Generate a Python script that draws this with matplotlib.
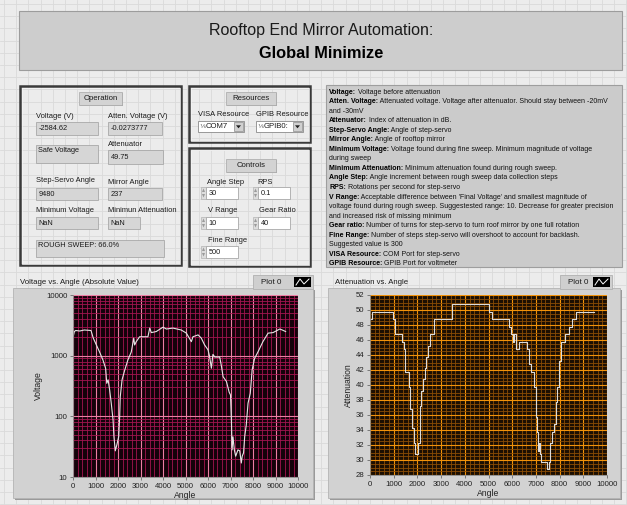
import numpy as np
import matplotlib
matplotlib.use("Agg")
import matplotlib.pyplot as plt
from matplotlib.patches import Rectangle, Polygon
from matplotlib.ticker import MultipleLocator, FixedLocator, NullFormatter

plt.rcParams['font.family'] = ['Liberation Sans', 'DejaVu Sans']

# voltage vs angle (absolute value)
volt_angle = [0, 60, 120, 300, 500, 800, 900, 1040, 1180, 1330,
              1450, 1500, 1560, 1630, 1700, 1780, 1820, 1880, 1950, 2030,
              2075, 2100, 2180, 2300, 2440, 2590, 2700, 2740, 2810, 2960,
              3190, 3330, 3410, 3480, 3700, 4000, 4150, 4440, 4810, 5040,
              5260, 5330, 5560, 5700, 5850, 6000, 6070, 6150, 6220, 6300,
              6520, 6600, 6670, 6820, 6940, 7000, 7040, 7070, 7110, 7170,
              7230, 7330, 7410, 7480, 7520, 7580, 7630, 7700, 7780, 7880,
              7960, 8070, 8220, 8440, 8670, 8890, 9190, 9300, 9450]
volt = [2000, 2500, 2600, 2550, 2650, 2600, 1950, 1500, 1150, 850,
        620, 350, 400, 270, 165, 87, 46, 27, 34, 46,
        100, 210, 400, 580, 850, 1150, 1950, 1500, 1700, 2050,
        2050, 2050, 2850, 2400, 2500, 2950, 2750, 2850, 2650, 2350,
        1700, 2050, 2200, 1950, 1500, 1250, 970, 620, 1050, 950,
        950, 660, 450, 375, 250, 225, 87, 28, 46, 28,
        22, 28, 27, 17, 22, 25, 46, 72, 165, 240,
        580, 900, 1150, 1700, 2350, 2400, 2750, 2650, 2500]

# attenuation vs angle (step values)
att_angle = [0, 100, 990, 1060, 1340, 1420, 1490, 1630, 1700, 1770,
             1840, 1890, 2040, 2090, 2170, 2230, 2310, 2380, 2450, 2520,
             2700, 3450, 5030, 5140, 5850, 5950, 6020, 6060, 6140, 6290,
             6620, 6700, 6800, 6900, 7000, 7040, 7090, 7140, 7170, 7230,
             7450, 7570, 7610, 7680, 7760, 7830, 7900, 7970, 8040, 8220,
             8400, 8510, 8690, 9450]
att = [48.75, 49.75, 48.75, 46.75, 45.75, 44.75, 41.75, 39.75, 36.75, 34.25,
       32.25, 30.75, 32.25, 37.25, 39.25, 40.75, 42.25, 43.75, 45.25, 46.75,
       48.75, 50.75, 49.75, 48.75, 47.75, 46.75, 45.75, 46.75, 44.75, 45.75,
       44.75, 42.75, 41.75, 39.75, 35.75, 33.75, 31.25, 32.25, 30.75, 29.75,
       28.75, 29.75, 32.25, 33.75, 34.75, 37.75, 39.75, 43.25, 45.75, 46.75,
       47.75, 48.75, 49.75, 49.75]

desc_lines = [
    ("Voltage:", " Voltage before attenuation"),
    ("Atten. Voltage:", " Attenuated voltage. Voltage after attenuator. Should stay between -20mV"),
    ("", "and -30mV"),
    ("Attenuator:", " Index of attenuation in dB."),
    ("Step-Servo Angle:", " Angle of step-servo"),
    ("Mirror Angle:", " Angle of rooftop mirror"),
    ("Minimum Voltage:", " Voltage found during fine sweep. Minimum magnitude of voltage"),
    ("", "during sweep"),
    ("Minimum Attenuation:", " Minimum attenuation found during rough sweep."),
    ("Angle Step:", " Angle increment between rough sweep data collection steps"),
    ("RPS:", " Rotations per second for step-servo"),
    ("V Range:", " Acceptable difference between 'Final Voltage' and smallest magnitude of"),
    ("", "voltage found during rough sweep. Suggestested range: 10. Decrease for greater precision"),
    ("", "and increased risk of missing minimum"),
    ("Gear ratio:", " Number of turns for step-servo to turn roof mirror by one full rotation"),
    ("Fine Range:", " Number of steps step-servo will overshoot to account for backlash."),
    ("", "Suggested value is 300"),
    ("VISA Resource:", " COM Port for step-servo"),
    ("GPIB Resource:", " GPIB Port for voltmeter"),
]

W, H = 627, 505
fig = plt.figure(figsize=(W / 100, H / 100), dpi=100)
fig.patch.set_facecolor('#ececec')
bg = fig.add_axes([0, 0, 1, 1])
bg.set_xlim(0, W)
bg.set_ylim(H, 0)
bg.axis('off')

# panel grid
for g in np.arange(4, W, 12.2):
    bg.axvline(g, color='#dadada', lw=0.6, zorder=0)
for g in np.arange(4, H, 12.2):
    bg.axhline(g, color='#dadada', lw=0.6, zorder=0)


def rect(x0, y0, x1, y1, fc, ec='none', lw=0.8, z=1):
    bg.add_patch(Rectangle((x0, y0), x1 - x0, y1 - y0, fc=fc, ec=ec, lw=lw, zorder=z))


def txt(x, y, s, size=5.4, weight='normal', ha='left', color='#1a1a1a'):
    return bg.text(x, y, s, fontsize=size, fontweight=weight, ha=ha, va='center',
                   color=color, zorder=5)


def field(x0, y0, x1, y1, s, fc='#d6d6d6', ty=None):
    rect(x0, y0, x1, y1, fc, '#a8a8a8', 0.6, 3)
    txt(x0 + 2.5, (y0 + y1) / 2 + 0.5 if ty is None else ty, s, 5.3)


def button(x0, y0, x1, y1, s):
    rect(x0 + 1, y0 + 1, x1 + 1, y1 + 1, '#8c8c8c', z=2)
    rect(x0, y0, x1, y1, '#d3d3d3', '#b0b0b0', 0.6, 3)
    txt((x0 + x1) / 2, (y0 + y1) / 2, s, 5.6, ha='center')


def frame(x0, y0, x1, y1):
    rect(x0, y0, x1, y1, 'none', '#3a3a3a', 1.8, 2)
    rect(x0 + 1.5, y0 + 1.5, x1 - 1.5, y1 - 1.5, 'none', '#f6f6f6', 0.5, 2)


def spinner(x0, y0, x1, y1, s):
    sx = x0 - 5
    rect(sx, y0, x0, y1, '#dedede', '#a8a8a8', 0.4, 3)
    ym = (y0 + y1) / 2
    bg.add_patch(Polygon([[sx + 1, ym - 1], [sx + 4, ym - 1], [sx + 2.5, y0 + 1.5]], fc='#9a9a9a', zorder=4))
    bg.add_patch(Polygon([[sx + 1, ym + 1], [sx + 4, ym + 1], [sx + 2.5, y1 - 1.5]], fc='#9a9a9a', zorder=4))
    field(x0, y0, x1, y1, s, fc='white')


def dropdown(x0, y0, x1, y1, s):
    rect(x0, y0, x1, y1, 'white', '#8a8a8a', 0.6, 3)
    txt(x0 + 1.5, (y0 + y1) / 2, '⅙', 4.5, color='#555555')
    txt(x0 + 8, (y0 + y1) / 2 + 0.5, s, 5.6)
    rect(x1 - 10, y0 + 1, x1 - 1, y1 - 1, '#d0d0d0', '#8a8a8a', 0.5, 4)
    xm, ym = x1 - 5.5, (y0 + y1) / 2
    bg.add_patch(Polygon([[xm - 2.5, ym - 1.2], [xm + 2.5, ym - 1.2], [xm, ym + 1.8]], fc='#202020', zorder=5))


# title box
rect(19, 11, 622, 70, '#cdcdcd', '#9c9c9c', 0.8)
txt(321, 31, 'Rooftop End Mirror Automation:', 11.5, ha='center')
txt(321, 53, 'Global Minimize', 11.8, weight='bold', ha='center', color='black')

# operation box
frame(20, 86, 181, 265)
button(79, 92, 122, 105, 'Operation')
txt(36, 116, 'Voltage (V)')
field(36, 122, 98, 135, '-2584.62')
txt(108, 116, 'Atten. Voltage (V)')
field(108, 122, 162, 135, '-0.0273777')
field(36, 145, 98, 163, 'Safe Voltage', ty=151)
txt(108, 145, 'Attenuator')
field(108, 150, 163, 164, '49.75')
txt(36, 181, 'Step-Servo Angle')
field(36, 188, 98, 200, '9480')
txt(108, 182, 'Mirror Angle')
field(108, 188, 162, 200, '237')
txt(36, 211, 'Minimum Voltage')
field(36, 217, 98, 229, 'NaN')
txt(108, 211, 'Minimun Attenuation')
field(108, 217, 140, 229, 'NaN')
field(36, 240, 164, 257, 'ROUGH SWEEP: 66.0%', ty=245.5)

# resources box
frame(189, 86, 310, 142)
button(226, 92, 276, 105, 'Resources')
txt(198, 115, 'VISA Resource')
dropdown(198, 121, 244, 132, 'COM7')
txt(256, 115, 'GPIB Resource')
dropdown(256, 121, 303, 132, 'GPIB0:')

# controls box
frame(189, 148, 310, 266)
button(226, 159, 276, 172, 'Controls')
txt(207, 182, 'Angle Step')
spinner(206, 187, 238, 199, '30')
txt(257, 182, 'RPS')
spinner(258, 187, 290, 199, '0.1')
txt(208, 211, 'V Range')
spinner(206, 217, 238, 229, '10')
txt(259, 211, 'Gear Ratio')
spinner(258, 217, 290, 229, '40')
txt(208, 240, 'Fine Range')
spinner(206, 246, 238, 258, '500')

# description box
rect(326, 85, 622, 267, '#cbcbcb', '#9e9e9e', 0.8)
y = 93.5
for head, rest in desc_lines:
    if head:
        t = bg.text(329, y, head, fontsize=5.0, fontweight='bold', va='baseline', color='black', zorder=5)
        bg.annotate(rest, xy=(1, 0), xycoords=t, fontsize=5.0, va='bottom', color='#111111', zorder=5)
    else:
        bg.text(329, y, rest, fontsize=5.0, va='baseline', color='#111111', zorder=5)
    y += 9.55

# graph panels
for x0, x1, title in [(13, 313, 'Voltage vs. Angle (Absolute Value)'), (328, 620, 'Attenuation vs. Angle')]:
    rect(x0 + 2, 290, x1 + 2, 500, '#9a9a9a', z=1)
    rect(x0, 288, x1, 498, '#d2d2d2', '#b4b4b4', 0.6, 1)
    txt(x0 + 7, 283, title, 5.6)

for x0, x1 in [(253, 313), (560, 612)]:
    rect(x0, 275, x1, 289, '#cfcfcf', '#b0b0b0', 0.6, 2)
    txt(x0 + 8, 282, 'Plot 0', 5.8)
    rect(x1 - 19, 277, x1 - 2, 287, 'black', z=3)
    bg.plot([x1 - 17, x1 - 13, x1 - 9, x1 - 4], [285, 279, 284, 279], color='white', lw=0.7, zorder=4)


def px_axes(x0, y0, x1, y1):
    return fig.add_axes([x0 / W, 1 - y1 / H, (x1 - x0) / W, (y1 - y0) / H])


def style(ax, fc):
    ax.set_facecolor(fc)
    for s in ['top', 'right']:
        ax.spines[s].set_visible(False)
    for s in ['left', 'bottom']:
        ax.spines[s].set_color('#8a8a8a')
        ax.spines[s].set_linewidth(0.6)
    ax.tick_params(which='major', labelsize=5.6, length=2.5, width=0.5, colors='#555555', labelcolor='#222222', pad=1.5)
    ax.tick_params(which='minor', length=0)


# voltage plot
ax1 = px_axes(73, 295, 298, 477)
style(ax1, '#14020a')
ax1.set_yscale('log')
ax1.set_xlim(0, 10000)
ax1.set_ylim(10, 10000)
ax1.xaxis.set_major_locator(MultipleLocator(1000))
ax1.xaxis.set_minor_locator(MultipleLocator(200))
ax1.yaxis.set_major_locator(FixedLocator([10, 100, 1000, 10000]))
ax1.set_yticklabels(['10', '100', '1000', '10000'])
ax1.yaxis.set_minor_locator(FixedLocator([m * d for d in [10, 100, 1000] for m in range(2, 10)]))
ax1.yaxis.set_minor_formatter(NullFormatter())
ax1.grid(which='minor', color='#a3154f', lw=0.6)
ax1.grid(which='major', color='#ec7ea4', lw=0.8)
ax1.plot(volt_angle, volt, color='#e6e6e6', lw=0.8)
ax1.set_xlabel('Angle', fontsize=6.2, color='#222222', labelpad=1)
ax1.set_ylabel('Voltage', fontsize=6.2, color='#222222', labelpad=2)

# attenuation plot
ax2 = px_axes(370, 295, 607, 475)
style(ax2, '#1c0f02')
ax2.set_xlim(0, 10000)
ax2.set_ylim(28, 52)
ax2.xaxis.set_major_locator(MultipleLocator(1000))
ax2.xaxis.set_minor_locator(MultipleLocator(200))
ax2.yaxis.set_major_locator(MultipleLocator(2))
ax2.yaxis.set_minor_locator(MultipleLocator(0.5))
ax2.grid(which='minor', color='#8a4c05', lw=0.6)
ax2.grid(which='major', color='#f2920a', lw=0.8)
ax2.plot(att_angle, att, color='#dcdcdc', lw=0.8, drawstyle='steps-post')
ax2.set_xlabel('Angle', fontsize=6.2, color='#222222', labelpad=1)
ax2.set_ylabel('Attenuation', fontsize=6.2, color='#222222', labelpad=2)

fig.savefig('out.png', dpi=100, facecolor=fig.get_facecolor())
